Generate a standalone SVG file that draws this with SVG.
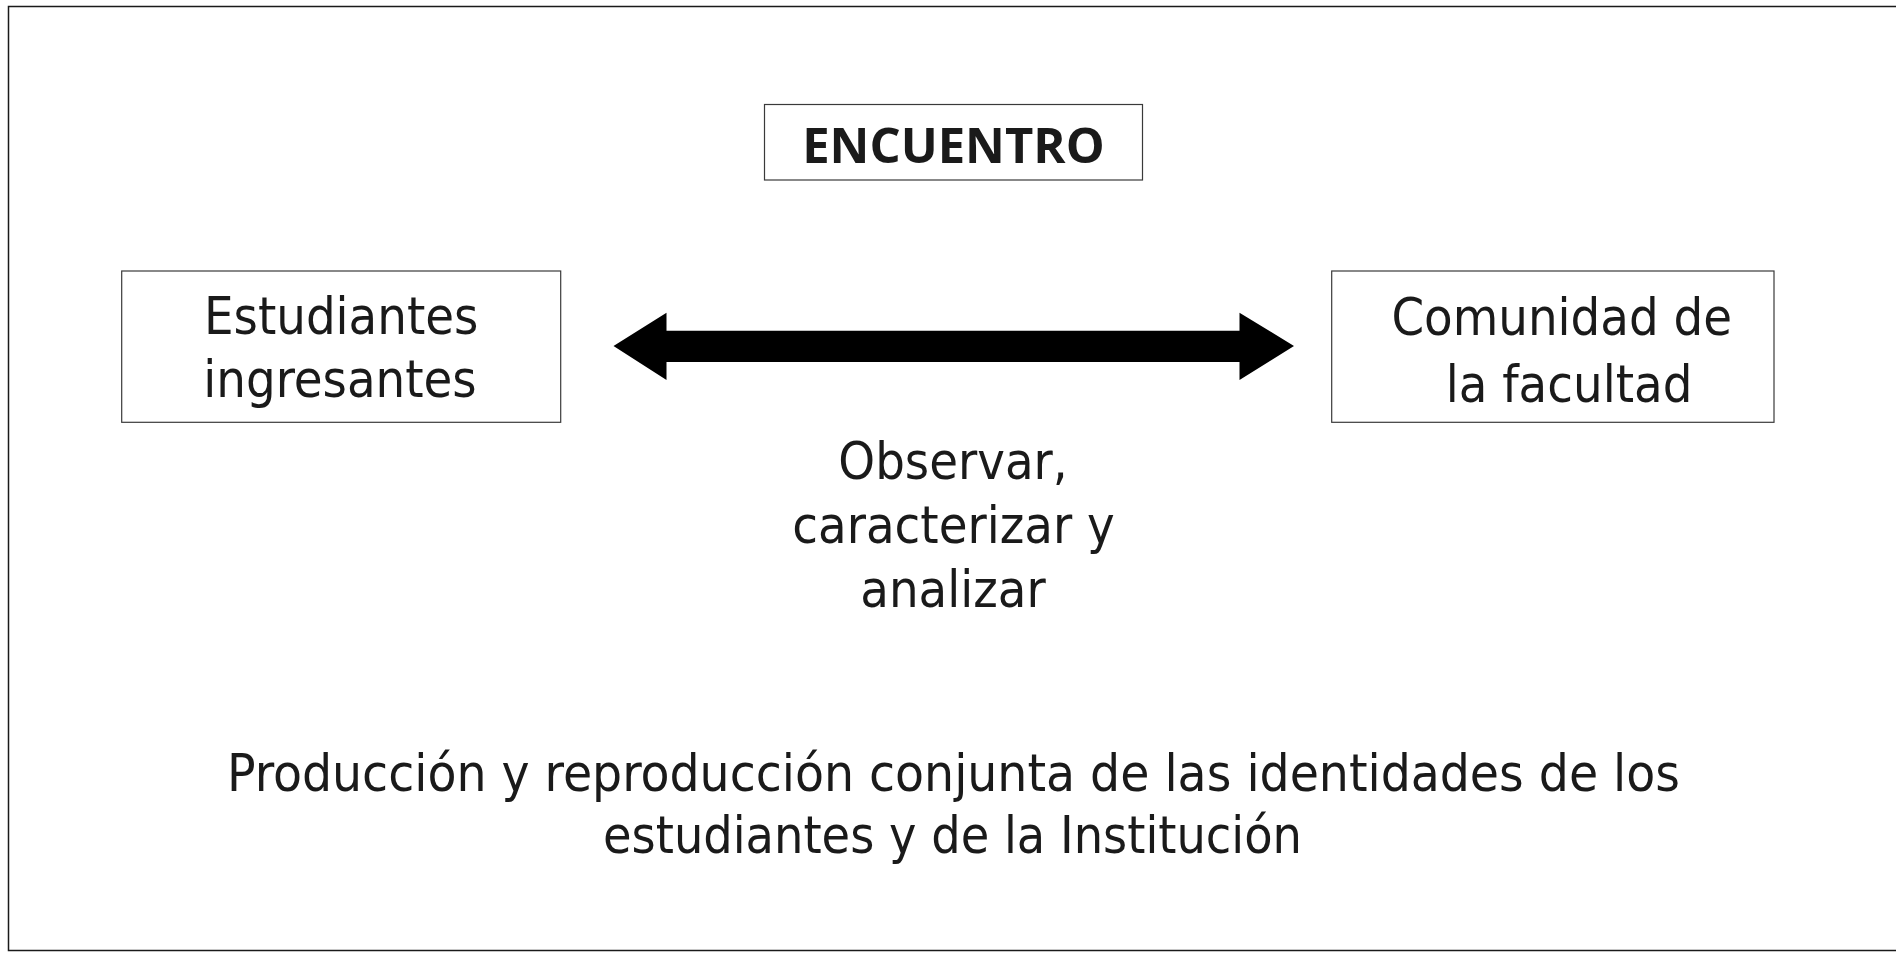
<svg xmlns="http://www.w3.org/2000/svg" width="1896" height="954" viewBox="0 0 1896 954">
<style>
.frame{fill:#fff;stroke:#1a1a1a;stroke-width:1.5}
.box{fill:#fff;stroke:#3a3a3a;stroke-width:1.2}
.t{font-family:"DejaVu Sans Condensed","DejaVu Sans",sans-serif;font-stretch:condensed;font-size:52px;fill:#1a1a1a;text-anchor:middle}
.tb{font-family:"Open Sans","Noto Sans",sans-serif;font-weight:bold;font-size:49px;fill:#1a1a1a;text-anchor:middle}
</style>
<rect width="1896" height="954" fill="#fff"/>
<rect class="frame" x="8.5" y="6.5" width="1900" height="944"/>
<g id="encuentro">
<rect class="box" x="764.5" y="104.5" width="378" height="75.5"/>
<text class="tb" x="953.4" y="162.7">ENCUENTRO</text>
</g>
<g id="estudiantes">
<rect class="box" x="121.7" y="271" width="439" height="151.3"/>
<text class="t" x="341.2" y="334">Estudiantes</text>
<text class="t" x="340" y="397">ingresantes</text>
</g>
<g id="comunidad">
<rect class="box" x="1331.7" y="271" width="442.3" height="151.3"/>
<text class="t" x="1561.7" y="335.3">Comunidad de</text>
<text class="t" x="1569" y="401.7">la facultad</text>
</g>
<g id="connectors">
<polygon fill="#000" points="613.5,346 666.5,312.7 666.5,330.7 1239.5,330.7 1239.5,312.7 1294,346 1239.5,380 1239.5,362 666.5,362 666.5,380"/>
</g>
<g id="accion">
<text class="t" x="953" y="479.3">Observar,</text>
<text class="t" x="953.5" y="543">caracterizar y</text>
<text class="t" x="953" y="606.7">analizar</text>
</g>
<g id="resultado">
<text class="t" x="953.5" y="790.7" textLength="1453" lengthAdjust="spacingAndGlyphs">Producción y reproducción conjunta de las identidades de los</text>
<text class="t" x="952.5" y="853.3" textLength="699" lengthAdjust="spacingAndGlyphs">estudiantes y de la Institución</text>
</g>
</svg>
